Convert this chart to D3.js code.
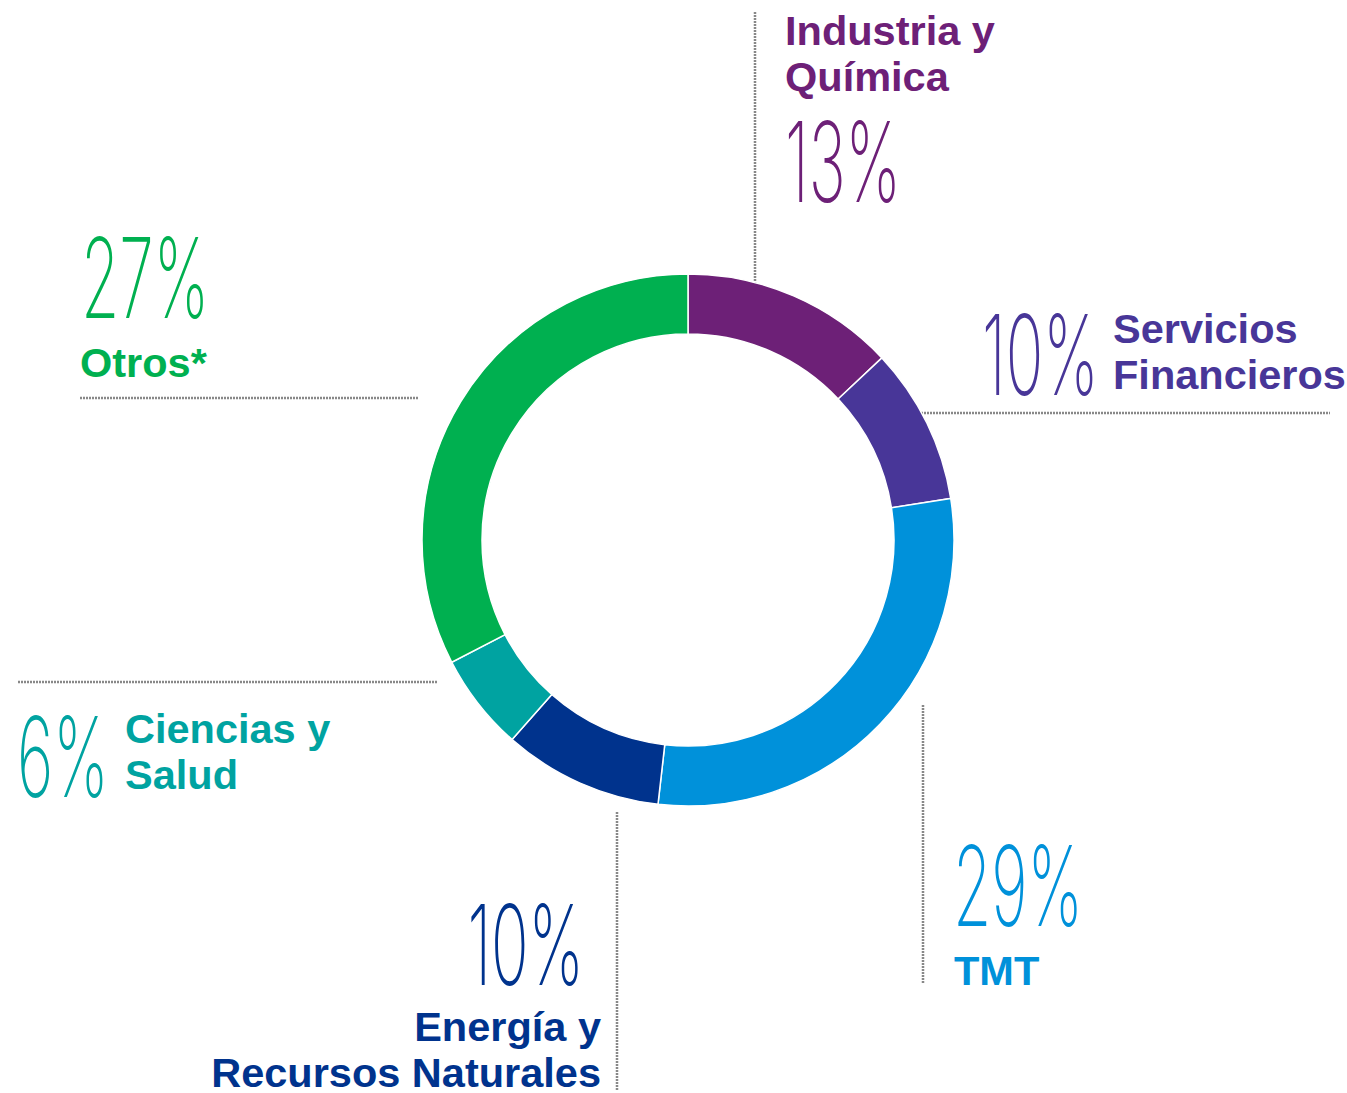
<!DOCTYPE html>
<html>
<head>
<meta charset="utf-8">
<script src="https://cdn.jsdelivr.net/npm/d3@7"></script>
<style>
  body { margin: 0; background: #fff; }
  .name { font-family: "Liberation Sans", Arial, sans-serif; font-weight: bold; font-size: 41.5px; }
  .pct { font-family: "Inter", "Roboto", sans-serif; font-weight: 200; font-size: 111px; }
</style>
</head>
<body>
<div class="chart"></div>
<script>
// sectors, clockwise from 12 o'clock
var sectors = ["Industria y Química", "Servicios Financieros", "TMT", "Energía y Recursos Naturales", "Ciencias y Salud", "Otros*"];
var nameLines = [["Industria y", "Química"], ["Servicios", "Financieros"], ["TMT"], ["Energía y", "Recursos Naturales"], ["Ciencias y", "Salud"], ["Otros*"]];
var pctLabels = [13, 10, 29, 10, 6, 27];
// share of the ring each slice takes in the picture
var arcShares = [13, 9.5, 29.3, 9.7, 5.9, 32.6];
var colors = ["#6d2077", "#483698", "#0091da", "#00338d", "#00a3a1", "#00b050"];

var width = 1347, height = 1093;
var cx = 688, cy = 540, outerR = 266, innerR = 206;

// where each label block sits
var layout = [
  { pct: [785, 202, "start"], name: [785, 45, "start"], lead: [755, 12, 755, 290] },
  { pct: [982, 395, "start"], name: [1113, 343, "start"], lead: [912, 413, 1330, 413] },
  { pct: [953, 926, "start"], name: [954, 985, "start"], lead: [923, 705, 923, 983] },
  { pct: [584, 985, "end"], name: [601, 1041, "end"], lead: [617, 812, 617, 1090] },
  { pct: [17, 797, "start"], name: [125, 743, "start"], lead: [18, 682, 437, 682] },
  { pct: [81, 318, "start"], name: [80, 377, "start"], lead: [80, 398, 418, 398] }
];
var lineGap = 46, pctScale = 0.56;

var svg = d3.select(".chart")
    .append("svg")
    .attr("width", width)
    .attr("height", height);

var pie = d3.pie().sort(null).value(function(d) { return d; });
var arc = d3.arc().innerRadius(innerR).outerRadius(outerR);

var rows = sectors.map(function(s, i) {
  return { sector: s, lines: nameLines[i], pct: pctLabels[i], share: arcShares[i], color: colors[i], pos: layout[i] };
});

// dotted leader lines
svg.append("g")
    .selectAll("line")
    .data(rows)
  .enter().append("line")
    .attr("x1", function(d) { return d.pos.lead[0]; })
    .attr("y1", function(d) { return d.pos.lead[1]; })
    .attr("x2", function(d) { return d.pos.lead[2]; })
    .attr("y2", function(d) { return d.pos.lead[3]; })
    .style("stroke", "#888")
    .style("stroke-width", 2.5)
    .style("stroke-dasharray", "2,1");

// ring
svg.append("g")
    .attr("transform", "translate(" + cx + "," + cy + ")")
  .selectAll("path")
    .data(pie(arcShares))
  .enter().append("path")
    .attr("d", arc)
    .style("fill", function(d, i) { return colors[i]; })
    .style("stroke", "white")
    .style("stroke-width", 1.5);

// big percentages
svg.append("g")
    .selectAll("text")
    .data(rows)
  .enter().append("text")
    .attr("class", "pct")
    .attr("transform", function(d) { return "translate(" + d.pos.pct[0] + "," + d.pos.pct[1] + ") scale(" + pctScale + ",1)"; })
    .attr("text-anchor", function(d) { return d.pos.pct[2]; })
    .style("fill", function(d) { return d.color; })
    .text(function(d) { return d.pct + "%"; });

// sector names
var names = svg.append("g")
    .selectAll("text")
    .data(rows)
  .enter().append("text")
    .attr("class", "name")
    .attr("x", function(d) { return d.pos.name[0]; })
    .attr("y", function(d) { return d.pos.name[1]; })
    .attr("text-anchor", function(d) { return d.pos.name[2]; })
    .style("fill", function(d) { return d.color; });

names.selectAll("tspan")
    .data(function(d) { return d.lines.map(function(l) { return { text: l, x: d.pos.name[0] }; }); })
  .enter().append("tspan")
    .attr("x", function(d) { return d.x; })
    .attr("dy", function(d, i) { return i ? lineGap : 0; })
    .text(function(d) { return d.text; });
</script>
</body>
</html>
